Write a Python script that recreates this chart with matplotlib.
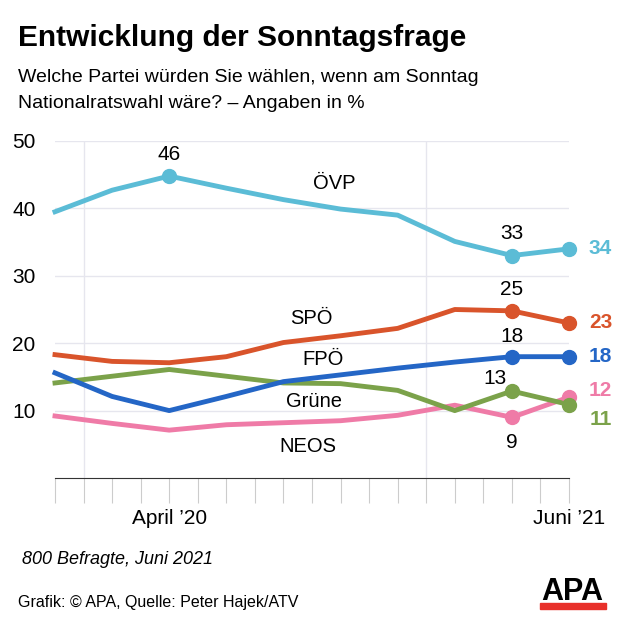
import matplotlib
matplotlib.use("Agg")
import matplotlib.pyplot as plt
import numpy as np

plt.rcParams["font.family"] = ["Liberation Sans", "DejaVu Sans"]

# months from Dec 2019 (0) to Jun 2021 (18); survey points every 2 months
months = np.arange(0, 19, 2)
oevp = [39.5, 42.7, 44.8, 43.0, 41.3, 39.9, 39.0, 35.1, 33.0, 34.0]
spoe = [18.3, 17.3, 17.1, 18.0, 20.1, 21.1, 22.2, 25.0, 24.8, 23.0]
fpoe = [15.6, 12.1, 10.0, 12.1, 14.3, 15.3, 16.3, 17.2, 18.0, 18.0]
gruene = [14.1, 15.1, 16.1, 15.1, 14.1, 14.0, 13.0, 10.0, 12.9, 10.9]
neos = [9.2, 8.1, 7.1, 7.9, 8.2, 8.5, 9.3, 10.8, 9.0, 12.0]
labels_last = ["34", "23", "18", "12", "11"]
labels_mid = ["33", "25", "18", "9", "13"]
names = ["ÖVP", "SPÖ", "FPÖ", "NEOS", "Grüne"]

colors = {"ÖVP": "#5bbcd6", "SPÖ": "#d9542b", "FPÖ": "#2466c6",
          "Grüne": "#7ba24a", "NEOS": "#ef7ba7"}

fig = plt.figure(figsize=(6.2, 6.2), dpi=100)
ax = fig.add_axes([55 / 620, 1 - 478 / 620, (569 - 55) / 620, (478 - 141) / 620])

series = {"ÖVP": oevp, "SPÖ": spoe, "FPÖ": fpoe, "NEOS": neos, "Grüne": gruene}
for name in ["NEOS", "Grüne", "FPÖ", "SPÖ", "ÖVP"]:
    vals = series[name]
    ax.plot(months, vals, color=colors[name], lw=3.5, solid_joinstyle="round",
            clip_on=False, zorder=3)
    ax.plot(months[-2:], vals[-2:], "o", color=colors[name], ms=10,
            clip_on=False, zorder=4)
ax.plot(months[2], oevp[2], "o", color=colors["ÖVP"], ms=10, zorder=4)

# value labels
ax.text(4, 48, "46", ha="center", va="center", fontsize=15)
mid_pos = {"ÖVP": (16, 36.3), "SPÖ": (16, 28), "FPÖ": (16, 21),
           "NEOS": (16, 5.2), "Grüne": (15.4, 14.8)}
for name, lab in zip(names, labels_mid):
    x, y = mid_pos[name]
    ax.text(x, y, lab, ha="center", va="center", fontsize=15)
right_y = {"ÖVP": 34, "SPÖ": 23, "FPÖ": 18, "NEOS": 13.0, "Grüne": 8.7}
for name, lab in zip(names, labels_last):
    ax.text(19.1, right_y[name], lab, ha="center", va="center", fontsize=15,
            fontweight="bold", color=colors[name], clip_on=False)

# party names
name_pos = {"ÖVP": (9.77, 43.7), "SPÖ": (8.99, 23.6), "FPÖ": (9.4, 17.6),
            "Grüne": (9.07, 11.4), "NEOS": (8.86, 4.6)}
for name, (x, y) in name_pos.items():
    ax.text(x, y, name, ha="center", va="center", fontsize=14.5)

ax.set_xlim(0, 18)
ax.set_ylim(0, 50)
ax.set_yticks([10, 20, 30, 40, 50])
ax.tick_params(axis="y", length=0, labelsize=15, pad=14)
ax.set_xticks(np.arange(0, 19))
ax.set_xticklabels([""] * 4 + ["April \u201920"] + [""] * 13 + ["Juni \u201921"])
ax.tick_params(axis="x", length=18, width=0.8, color="#cccccc", labelsize=15, pad=4)
ax.grid(axis="y", color="#e6e6ee", lw=1)
for xv in [1, 13]:
    ax.axvline(xv, color="#e6e6ee", lw=1, zorder=1)
for s in ["top", "right", "left"]:
    ax.spines[s].set_visible(False)
ax.spines["bottom"].set_color("#333333")

fig.text(18 / 620, 1 - 38 / 620, "Entwicklung der Sonntagsfrage", fontsize=21.5,
         fontweight="bold", va="center")
fig.text(18 / 620, 1 - 78 / 620, "Welche Partei würden Sie wählen, wenn am Sonntag",
         fontsize=14, va="center")
fig.text(18 / 620, 1 - 103 / 620, "Nationalratswahl wäre? \u2013 Angaben in %",
         fontsize=14, va="center")
fig.text(22 / 620, 1 - 560 / 620, "800 Befragte, Juni 2021", fontsize=13,
         style="italic", va="center")
fig.text(18 / 620, 1 - 603 / 620, "Grafik: \u00a9 APA, Quelle: Peter Hajek/ATV",
         fontsize=11.5, va="center")
fig.text(572 / 620, 1 - 592 / 620, "APA", fontsize=22, fontweight="bold",
         ha="center", va="center")
fig.patches.append(plt.Rectangle((540 / 620, 1 - 609 / 620), 66 / 620, 6 / 620,
                                 transform=fig.transFigure, color="#e8302a"))

fig.savefig("out.png", dpi=100)
